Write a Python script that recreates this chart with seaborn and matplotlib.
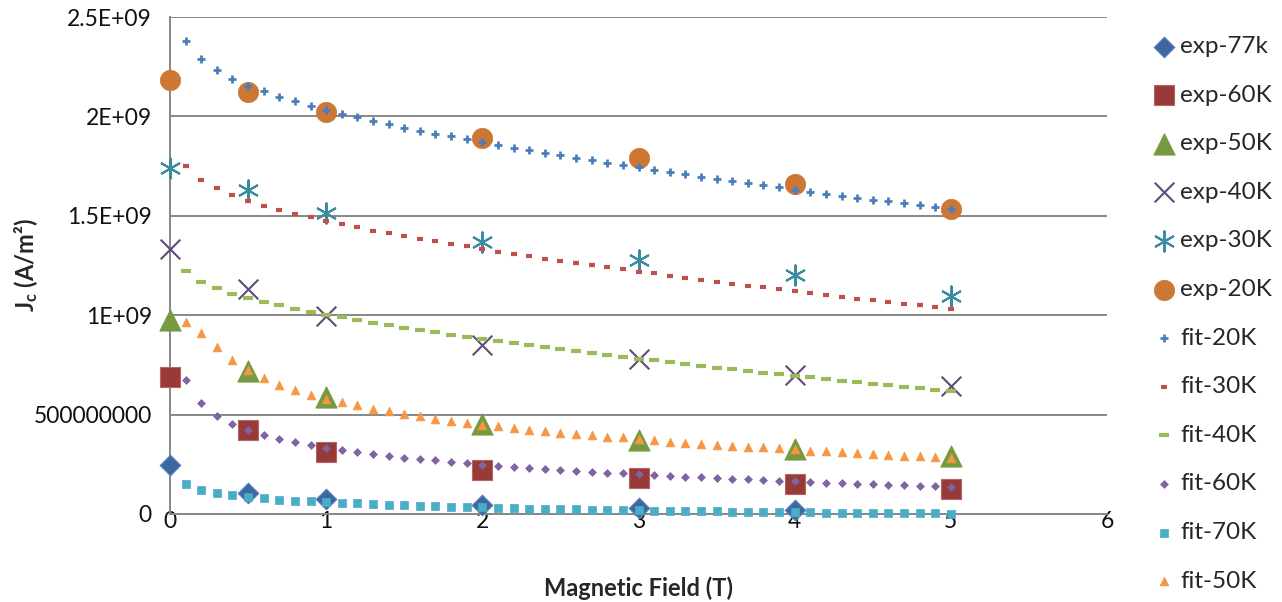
import matplotlib
matplotlib.use('Agg')
import matplotlib.pyplot as plt
import numpy as np
import pandas as pd
import seaborn as sns

# measured data, Jc in units of 1E9 A/m^2
field_exp = [0, 0.5, 1, 2, 3, 4, 5]
exp_77k = [0.246, 0.106, 0.075, 0.045, 0.030, 0.020]
exp_60K = [0.689, 0.423, 0.312, 0.221, 0.181, 0.151, 0.126]
exp_50K = [0.976, 0.719, 0.589, 0.453, 0.372, 0.327, 0.292]
exp_40K = [1.333, 1.132, 0.996, 0.850, 0.780, 0.700, 0.644]
exp_30K = [1.740, 1.630, 1.514, 1.368, 1.278, 1.202, 1.097]
exp_20K = [2.183, 2.123, 2.022, 1.891, 1.791, 1.660, 1.534]

# fitted curves, 0.1 T .. 5.0 T
field_fit = [i / 10 for i in range(1, 51)]
fit_20K = [2.379, 2.287, 2.232, 2.190, 2.154, 2.128, 2.099, 2.077, 2.052, 2.032,
           2.014, 1.995, 1.978, 1.960, 1.943, 1.925, 1.913, 1.900, 1.885, 1.871,
           1.856, 1.843, 1.829, 1.817, 1.804, 1.792, 1.781, 1.767, 1.756, 1.744,
           1.732, 1.720, 1.709, 1.697, 1.685, 1.675, 1.663, 1.653, 1.643, 1.631,
           1.621, 1.611, 1.601, 1.591, 1.581, 1.573, 1.563, 1.553, 1.543, 1.533]
fit_30K = [1.752, 1.682, 1.638, 1.605, 1.574, 1.551, 1.531, 1.511, 1.492, 1.474,
           1.457, 1.442, 1.425, 1.412, 1.397, 1.383, 1.372, 1.358, 1.347, 1.333,
           1.319, 1.308, 1.296, 1.284, 1.274, 1.263, 1.252, 1.241, 1.231, 1.219,
           1.211, 1.199, 1.189, 1.179, 1.169, 1.158, 1.148, 1.140, 1.130, 1.122,
           1.112, 1.102, 1.093, 1.083, 1.076, 1.066, 1.058, 1.050, 1.041, 1.033]
fit_40K = [1.222, 1.169, 1.135, 1.108, 1.087, 1.066, 1.050, 1.031, 1.016, 1.003,
           0.989, 0.976, 0.961, 0.949, 0.937, 0.926, 0.914, 0.902, 0.890, 0.879,
           0.868, 0.858, 0.848, 0.839, 0.829, 0.820, 0.811, 0.801, 0.791, 0.780,
           0.773, 0.763, 0.755, 0.746, 0.736, 0.728, 0.719, 0.711, 0.703, 0.696,
           0.688, 0.679, 0.671, 0.662, 0.655, 0.647, 0.639, 0.632, 0.624, 0.617]
fit_60K = [0.676, 0.557, 0.493, 0.453, 0.424, 0.397, 0.377, 0.361, 0.346, 0.334,
           0.322, 0.310, 0.302, 0.293, 0.283, 0.277, 0.270, 0.263, 0.257, 0.248,
           0.243, 0.238, 0.233, 0.228, 0.223, 0.218, 0.213, 0.208, 0.204, 0.200,
           0.195, 0.192, 0.188, 0.185, 0.181, 0.178, 0.175, 0.171, 0.168, 0.164,
           0.161, 0.157, 0.156, 0.152, 0.151, 0.147, 0.146, 0.142, 0.141, 0.137]
fit_70K = [0.152, 0.122, 0.106, 0.094, 0.087, 0.079, 0.072, 0.067, 0.064, 0.062,
           0.057, 0.054, 0.050, 0.047, 0.044, 0.042, 0.039, 0.037, 0.035, 0.034,
           0.030, 0.029, 0.027, 0.025, 0.024, 0.023, 0.022, 0.020, 0.019, 0.018,
           0.017, 0.016, 0.015, 0.014, 0.013, 0.012, 0.011, 0.010, 0.0096, 0.0086,
           0.008, 0.0075, 0.007, 0.0065, 0.006, 0.005, 0.0045, 0.004, 0.003, 0.0015]
fit_50K = [0.967, 0.909, 0.842, 0.773, 0.724, 0.684, 0.650, 0.624, 0.600, 0.577,
           0.563, 0.547, 0.530, 0.517, 0.503, 0.491, 0.479, 0.469, 0.459, 0.449,
           0.441, 0.431, 0.424, 0.418, 0.409, 0.402, 0.396, 0.389, 0.385, 0.376,
           0.371, 0.364, 0.359, 0.354, 0.349, 0.344, 0.339, 0.336, 0.330, 0.325,
           0.319, 0.315, 0.310, 0.305, 0.302, 0.297, 0.293, 0.290, 0.287, 0.283]

y_ticks = [0, 0.5e9, 1e9, 1.5e9, 2e9, 2.5e9]
y_tick_labels = ['0', '500000000', '1E+09', '1.5E+09', '2E+09', '2.5E+09']

sns.set_style('white')
plt.rcParams['font.family'] = ['Lato', 'DejaVu Sans']
plt.rcParams['mathtext.fontset'] = 'custom'
plt.rcParams['mathtext.rm'] = 'Lato'
plt.rcParams['mathtext.bf'] = 'Lato:bold'

fig = plt.figure(figsize=(12.82, 6.02), dpi=100)
ax = fig.add_axes([170 / 1282, 1 - 514 / 602, 937 / 1282, 497 / 602])

# (label, x, y, marker, size, face, edge, linewidth)
exp_series = [
    ('exp-77k', field_exp[:6], exp_77k, 'D', 110, '#3D67A0', '#5A82B8', 0.8),
    ('exp-60K', field_exp, exp_60K, 's', 200, '#973A38', '#B56664', 0.8),
    ('exp-50K', field_exp, exp_50K, '^', 230, '#779A40', '#779A40', 0.8),
    ('exp-40K', field_exp, exp_40K, 'x', 200, '#604A7B', '#604A7B', 1.5),
    ('exp-30K', field_exp, exp_30K, (6, 2, 0), 210, '#3A8C9E', '#3A8C9E', 1.5),
    ('exp-20K', field_exp, exp_20K, 'o', 215, '#CC7733', '#CC7733', 0.5),
]
fit_series = [
    ('fit-20K', fit_20K, '+', 36, '#4A7EBB', 2.0),
    ('fit-30K', fit_30K, '_', 20, '#C0504D', 3.0),
    ('fit-40K', fit_40K, '_', 52, '#9BBB59', 3.0),
    ('fit-60K', fit_60K, 'D', 16, '#8064A2', 0.5),
    ('fit-70K', fit_70K, 's', 32, '#4BACC6', 0.5),
    ('fit-50K', fit_50K, '^', 40, '#F79646', 0.5),
]

for label, xs, ys, marker, size, face, edge, lw in exp_series:
    df = pd.DataFrame({'B': xs, 'Jc': np.array(ys) * 1e9})
    sns.scatterplot(data=df, x='B', y='Jc', ax=ax, marker=marker, s=size,
                    color=face, edgecolor=edge, linewidth=lw, label=label,
                    zorder=3, clip_on=False)

for label, ys, marker, size, color, lw in fit_series:
    df = pd.DataFrame({'B': field_fit, 'Jc': np.array(ys) * 1e9})
    sns.scatterplot(data=df, x='B', y='Jc', ax=ax, marker=marker, s=size,
                    color=color, edgecolor=color, linewidth=lw, label=label,
                    zorder=4, clip_on=False)

ax.set_xlim(0, 6)
ax.set_ylim(0, 2.5e9)
ax.set_xticks(range(7))
ax.set_yticks(y_ticks)
ax.set_yticklabels(y_tick_labels)
ax.tick_params(axis='both', length=0, labelsize=16.5, colors='#111111')
ax.tick_params(axis='x', pad=-2)
ax.tick_params(axis='y', pad=13)

ax.yaxis.grid(True, color='#878787', linewidth=1.4)
ax.xaxis.grid(False)
ax.set_axisbelow(True)
sns.despine(ax=ax)
for side in ['left', 'bottom']:
    ax.spines[side].set_color('#878787')
    ax.spines[side].set_linewidth(1.4)

ax.set_xlabel('Magnetic Field (T)', fontsize=17, fontweight='bold')
ax.set_ylabel(r'$\mathbf{J_c}$ (A/m²)', fontsize=17, fontweight='bold')
ax.xaxis.set_label_coords(0.5, (514 - 576) / 497)
ax.yaxis.set_label_coords((40 - 170) / 937, 0.5)

ax.legend(loc='upper left', bbox_to_anchor=(1152 / 1282, 1 - 36 / 602),
          bbox_transform=fig.transFigure, frameon=False, fontsize=17.5,
          labelspacing=1.135, handletextpad=0.15, handlelength=1.0,
          borderaxespad=0, borderpad=0)

fig.savefig('out.png', dpi=100)
